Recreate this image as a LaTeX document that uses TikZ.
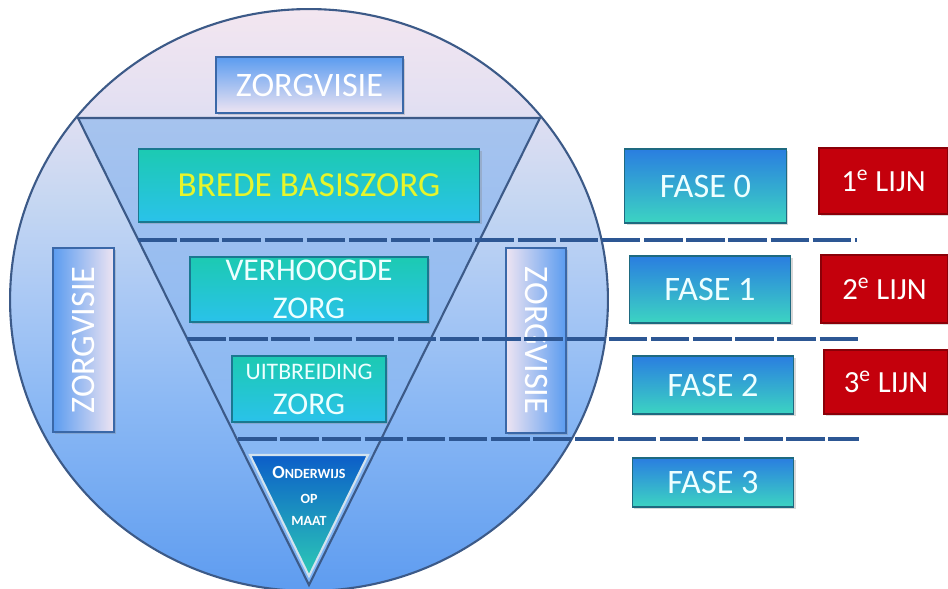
\documentclass[tikz,border=0pt]{standalone}
\usepackage{fontspec}
\setmainfont{Carlito}
\usetikzlibrary{shadows}
\definecolor{cq1}{HTML}{F3E6F0}
\definecolor{cq2}{HTML}{E4E0F2}
\definecolor{cq3}{HTML}{C6D7F2}
\definecolor{cq4}{HTML}{A9C8F4}
\definecolor{cq5}{HTML}{8CB9F4}
\definecolor{cq6}{HTML}{74AAF2}
\definecolor{cq7}{HTML}{5E9CF0}
\definecolor{cline}{HTML}{3C5A88}
\definecolor{tritop}{HTML}{A6C3EE}
\definecolor{tribot}{HTML}{7AB2F6}
\definecolor{sttop}{HTML}{0C5EC8}
\definecolor{stmid}{HTML}{1A94DC}
\definecolor{stbot}{HTML}{2CCAB6}
\definecolor{stedge}{HTML}{D2E2EE}
\definecolor{zblue}{HTML}{5B9CF0}
\definecolor{zpale}{HTML}{EEE4F2}
\definecolor{zborder}{HTML}{3A68A8}
\definecolor{tealtop}{HTML}{1CCAB2}
\definecolor{tealmid}{HTML}{1ED2D0}
\definecolor{tealbot}{HTML}{2AC2EA}
\definecolor{tealborder}{HTML}{1A7890}
\definecolor{byellow}{HTML}{E6F52C}
\definecolor{pale}{HTML}{EEFFFF}
\definecolor{fasetop}{HTML}{2A7EE0}
\definecolor{fasemid}{HTML}{2AB2E2}
\definecolor{fasebot}{HTML}{3CD4C2}
\definecolor{faseborder}{HTML}{1E6A80}
\definecolor{lijnred}{HTML}{C4000C}
\definecolor{lijnborder}{HTML}{8A0008}
\definecolor{dashblue}{HTML}{2D5794}
\pgfdeclareverticalshading{circsh}{100bp}{color(0bp)=(cq7); color(25bp)=(cq7); color(32.8bp)=(cq6); color(41.4bp)=(cq5); color(50bp)=(cq4); color(58.6bp)=(cq3); color(67.2bp)=(cq2); color(75bp)=(cq1); color(100bp)=(cq1)}
\tikzset{
  boxshadow/.style={drop shadow={shadow xshift=1.2pt, shadow yshift=-1.2pt, opacity=0.3}},
  zbox/.style={draw=zborder, line width=0.6pt, inner sep=0pt, text=white, font=\fontsize{19.5}{22}\selectfont, boxshadow},
  tealbox/.style={draw=tealborder, line width=0.6pt, inner sep=0pt, text=pale, top color=tealtop, middle color=tealmid, bottom color=tealbot, boxshadow},
  fasebox/.style={draw=faseborder, line width=0.6pt, inner sep=0pt, text=pale, top color=fasetop, middle color=fasemid, bottom color=fasebot, minimum width=3.23cm, font=\fontsize{19.5}{22}\selectfont, boxshadow},
  lijnbox/.style={draw=lijnborder, line width=0.6pt, inner sep=0pt, text=white, fill=lijnred, font=\fontsize{17.5}{20}\selectfont, boxshadow},
  tritext/.style={text=white, inner sep=0pt, font=\bfseries},
  dashline/.style={draw=dashblue, line width=2.7pt, dash pattern=on 22pt off 2pt},
  outline/.style={draw=cline, line width=1.2pt}
}
\begin{document}
\begin{tikzpicture}[x=0.02cm, y=-0.02cm]
\useasboundingbox[fill=white] (0,0) rectangle (948,589);
% big circle
\draw[outline, shading=circsh] (309,300) ellipse [x radius=5.98cm, y radius=5.82cm];
% inverted triangle
\draw[outline, top color=tritop, bottom color=tribot] (78,118) -- (540,118) -- (309,585) -- cycle;
% small triangle
\draw[draw=stedge, line width=1.2pt, top color=sttop, middle color=stmid, bottom color=stbot] (250,455) -- (368,455) -- (309,576) -- cycle;
\node[tritext] (ond) at (309,473) {{\fontsize{10.5}{12}\selectfont O}{\fontsize{8}{10}\selectfont NDERWIJS}};
\node[tritext] (op) at (309,499) {\fontsize{8}{10}\selectfont OP};
\node[tritext] (maat) at (309,521) {\fontsize{8}{10}\selectfont MAAT};
% zorgvisie boxes
\node[zbox, top color=zblue, bottom color=zpale, minimum width=3.74cm, minimum height=1.12cm] (ztop) at (309.5,85) {ZORGVISIE};
\node[zbox, left color=zblue, right color=zpale, minimum width=1.22cm, minimum height=3.68cm] (zl) at (83.5,340) {\rotatebox{90}{ZORGVISIE}};
\node[zbox, left color=zpale, right color=zblue, minimum width=1.2cm, minimum height=3.70cm] (zr) at (536,340.5) {\rotatebox{-90}{ZORGVISIE}};
% teal boxes
\node[tealbox, minimum width=6.84cm, minimum height=1.46cm, text=byellow, font=\fontsize{20}{24}\selectfont] (brede) at (309,185.5) {BREDE BASISZORG};
\node[tealbox, minimum width=4.76cm, minimum height=1.30cm, align=center, font=\fontsize{18}{21.5}\selectfont] (verh) at (309,289.5) {VERHOOGDE\\ZORG};
\node[tealbox, minimum width=3.08cm, minimum height=1.32cm, align=center, font=\fontsize{13.5}{20}\selectfont] (uitb) at (309,389) {UITBREIDING\\{\fontsize{18}{20}\selectfont ZORG}};
% fase boxes
\node[fasebox, minimum height=1.48cm] (f0) at (705.5,186) {FASE 0};
\node[fasebox, minimum height=1.34cm] (f1) at (710,289.5) {FASE 1};
\node[fasebox, minimum height=1.16cm] (f2) at (713,385) {FASE 2};
\node[fasebox, minimum height=0.98cm] (f3) at (713,482.5) {FASE 3};
% lijn boxes
\node[lijnbox, minimum width=2.58cm, minimum height=1.32cm] (l1) at (883.5,181) {1\textsuperscript{e} LIJN};
\node[lijnbox, minimum width=2.54cm, minimum height=1.36cm] (l2) at (884.5,289) {2\textsuperscript{e} LIJN};
\node[lijnbox, minimum width=2.48cm, minimum height=1.28cm] (l3) at (886,382) {3\textsuperscript{e} LIJN};
% dashed separators
\coordinate (d1a) at (138,240); \coordinate (d1b) at (857,240);
\coordinate (d2a) at (187,339); \coordinate (d2b) at (859,339);
\coordinate (d3a) at (238,439); \coordinate (d3b) at (859,439);
\draw[dashline] (d1a) -- (d1b);
\draw[dashline] (d2a) -- (d2b);
\draw[dashline] (d3a) -- (d3b);
\end{tikzpicture}
\end{document}
